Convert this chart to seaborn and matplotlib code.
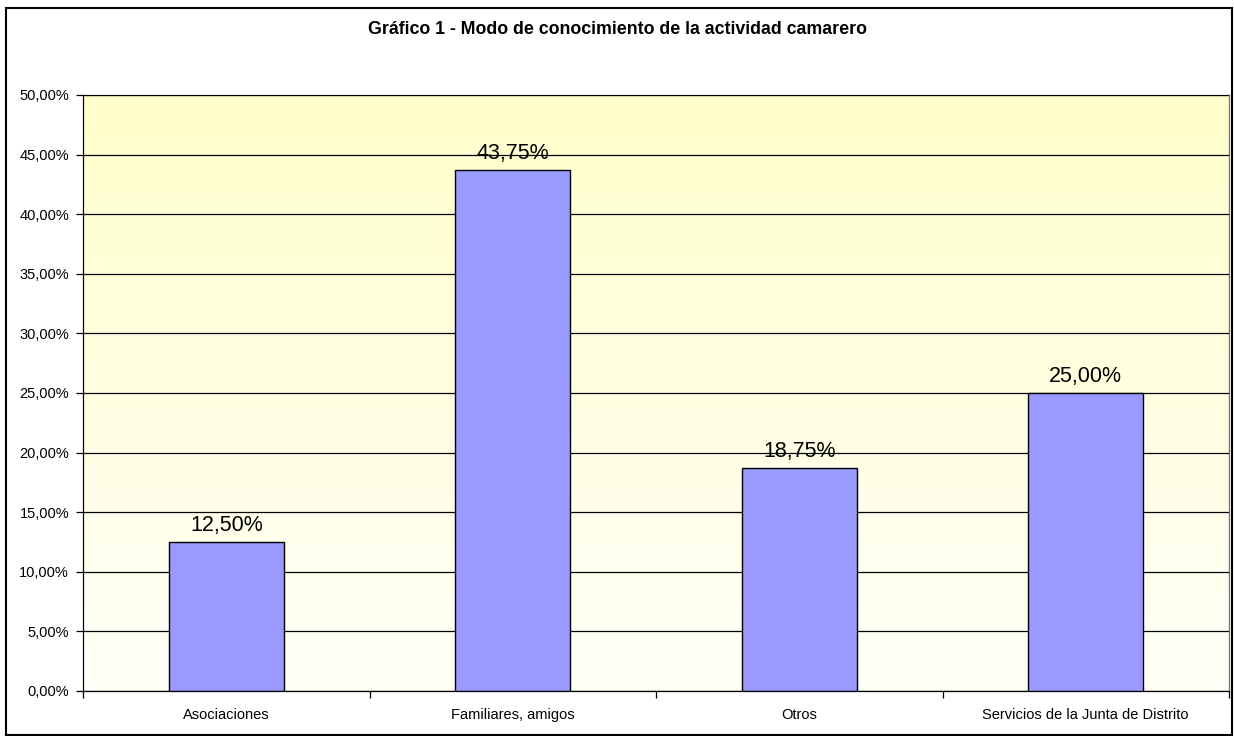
import numpy as np
import pandas as pd
import matplotlib
matplotlib.use("Agg")
import matplotlib.pyplot as plt
from matplotlib.colors import LinearSegmentedColormap
from matplotlib.patches import Rectangle
from matplotlib.ticker import FuncFormatter, MultipleLocator
import seaborn as sns

# datos del gráfico
categorias = ["Asociaciones", "Familiares, amigos", "Otros", "Servicios de la Junta de Distrito"]
porcentajes = [12.50, 43.75, 18.75, 25.00]
titulo = "Gráfico 1 - Modo de conocimiento de la actividad camarero"

df = pd.DataFrame({"categoria": categorias, "porcentaje": porcentajes})

sns.set_style("white")
plt.rcParams["font.family"] = ["Liberation Sans", "DejaVu Sans"]
plt.rcParams["text.color"] = "black"
plt.rcParams["xtick.color"] = "black"
plt.rcParams["ytick.color"] = "black"
plt.rcParams["axes.labelcolor"] = "black"

fig = plt.figure(figsize=(12.34, 7.36), dpi=100)
ax = fig.add_axes([83 / 1234, 1 - 691 / 736, (1229 - 83) / 1234, (691 - 95) / 736])

# fondo degradado amarillo -> blanco
cmap = LinearSegmentedColormap.from_list("fondo", ["#FFFFF8", "#FFFFCC"])
grad = np.linspace(0, 1, 256).reshape(-1, 1)
ax.imshow(grad, cmap=cmap, origin="lower", aspect="auto",
          extent=(-0.5, 3.5, 0, 50), zorder=0)

sns.barplot(data=df, x="categoria", y="porcentaje", color="#9999FF",
            saturation=1, width=0.4, edgecolor="black", linewidth=1.0,
            ax=ax, zorder=3)

ax.set_xlim(-0.5, 3.5)
ax.set_ylim(0, 50)
ax.yaxis.set_major_locator(MultipleLocator(5))
ax.yaxis.set_major_formatter(FuncFormatter(lambda v, p: f"{v:.2f}%".replace(".", ",")))
ax.grid(axis="y", color="black", linewidth=0.9, zorder=1)
ax.set_axisbelow(False)
for linea in ax.get_ygridlines():
    linea.set_zorder(1)

# marcas del eje x entre categorías
ax.set_xticks(np.arange(-0.5, 4, 1), minor=True)
ax.tick_params(axis="x", which="major", length=0, pad=12, labelsize=10.5, labelcolor="black")
ax.tick_params(axis="x", which="minor", length=5, width=0.9, direction="out", bottom=True)
ax.tick_params(axis="y", length=5, width=0.9, direction="out", left=True, labelsize=10.5,
               pad=5, labelcolor="black")
ax.set_xlabel("")
ax.set_ylabel("")

for lado in ["left", "bottom", "right", "top"]:
    ax.spines[lado].set_color("black")
    ax.spines[lado].set_linewidth(0.9)
ax.spines["top"].set_color("#707070")
ax.spines["right"].set_color("#707070")

# etiquetas de datos
for i, v in enumerate(porcentajes):
    ax.text(i, v + 0.5, f"{v:.2f}%".replace(".", ","), ha="center", va="bottom",
            fontsize=15.5, color="black", zorder=5)

fig.text(0.5, 1 - 30 / 736, titulo, ha="center", va="center",
         fontsize=12.8, fontweight="bold", color="black")

fig.patches.append(Rectangle((6 / 1234, 1 / 736), 1226 / 1234, (728 - 1) / 736,
                             transform=fig.transFigure, fill=False,
                             edgecolor="black", linewidth=1.5))

fig.savefig("out.png", dpi=100, facecolor="white")
